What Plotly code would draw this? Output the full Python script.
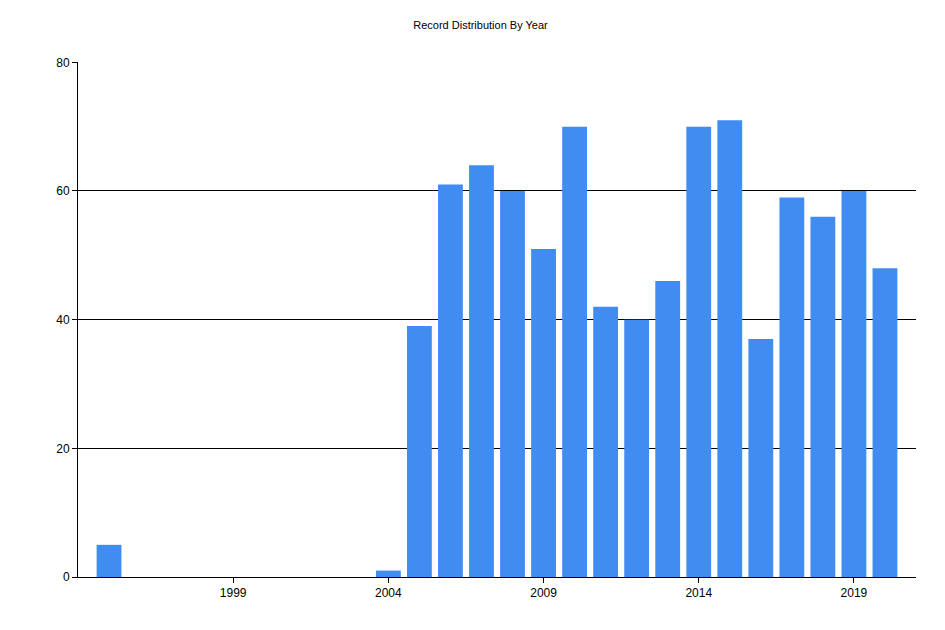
import plotly.graph_objects as go

years = [1995, 2004, 2005, 2006, 2007, 2008, 2009, 2010, 2011, 2012, 2013, 2014, 2015, 2016, 2017, 2018, 2019, 2020]
counts = [5, 1, 39, 61, 64, 60, 51, 70, 42, 40, 46, 70, 71, 37, 59, 56, 60, 48]
xticks = [1999, 2004, 2009, 2014, 2019]
title = "Record Distribution By Year"

fig = go.Figure(go.Bar(x=years, y=counts, marker_color="#418CF0", width=0.8, marker_line_width=0))
fig.update_layout(
    width=945, height=630,
    margin=dict(l=70, r=37, t=54, b=61),
    paper_bgcolor="white", plot_bgcolor="white",
    font=dict(family="Liberation Sans, Arial, sans-serif", size=12, color="black"),
    title=dict(text=title, x=0.5, xanchor="center", y=0.973, yanchor="middle", font=dict(size=11)),
    showlegend=False,
)
fig.update_xaxes(range=[1994, 2021], tickvals=xticks, showgrid=False, showline=True,
                 linecolor="black", linewidth=1, ticks="outside", ticklen=5, tickcolor="black", zeroline=False)
fig.update_yaxes(range=[0, 80.05], tickvals=[0, 20, 40, 60, 80], showgrid=True, gridcolor="black", gridwidth=1,
                 showline=True, linecolor="black", linewidth=1, ticks="outside", ticklen=5,
                 tickcolor="black", zeroline=False)
fig.write_html("out.html")
